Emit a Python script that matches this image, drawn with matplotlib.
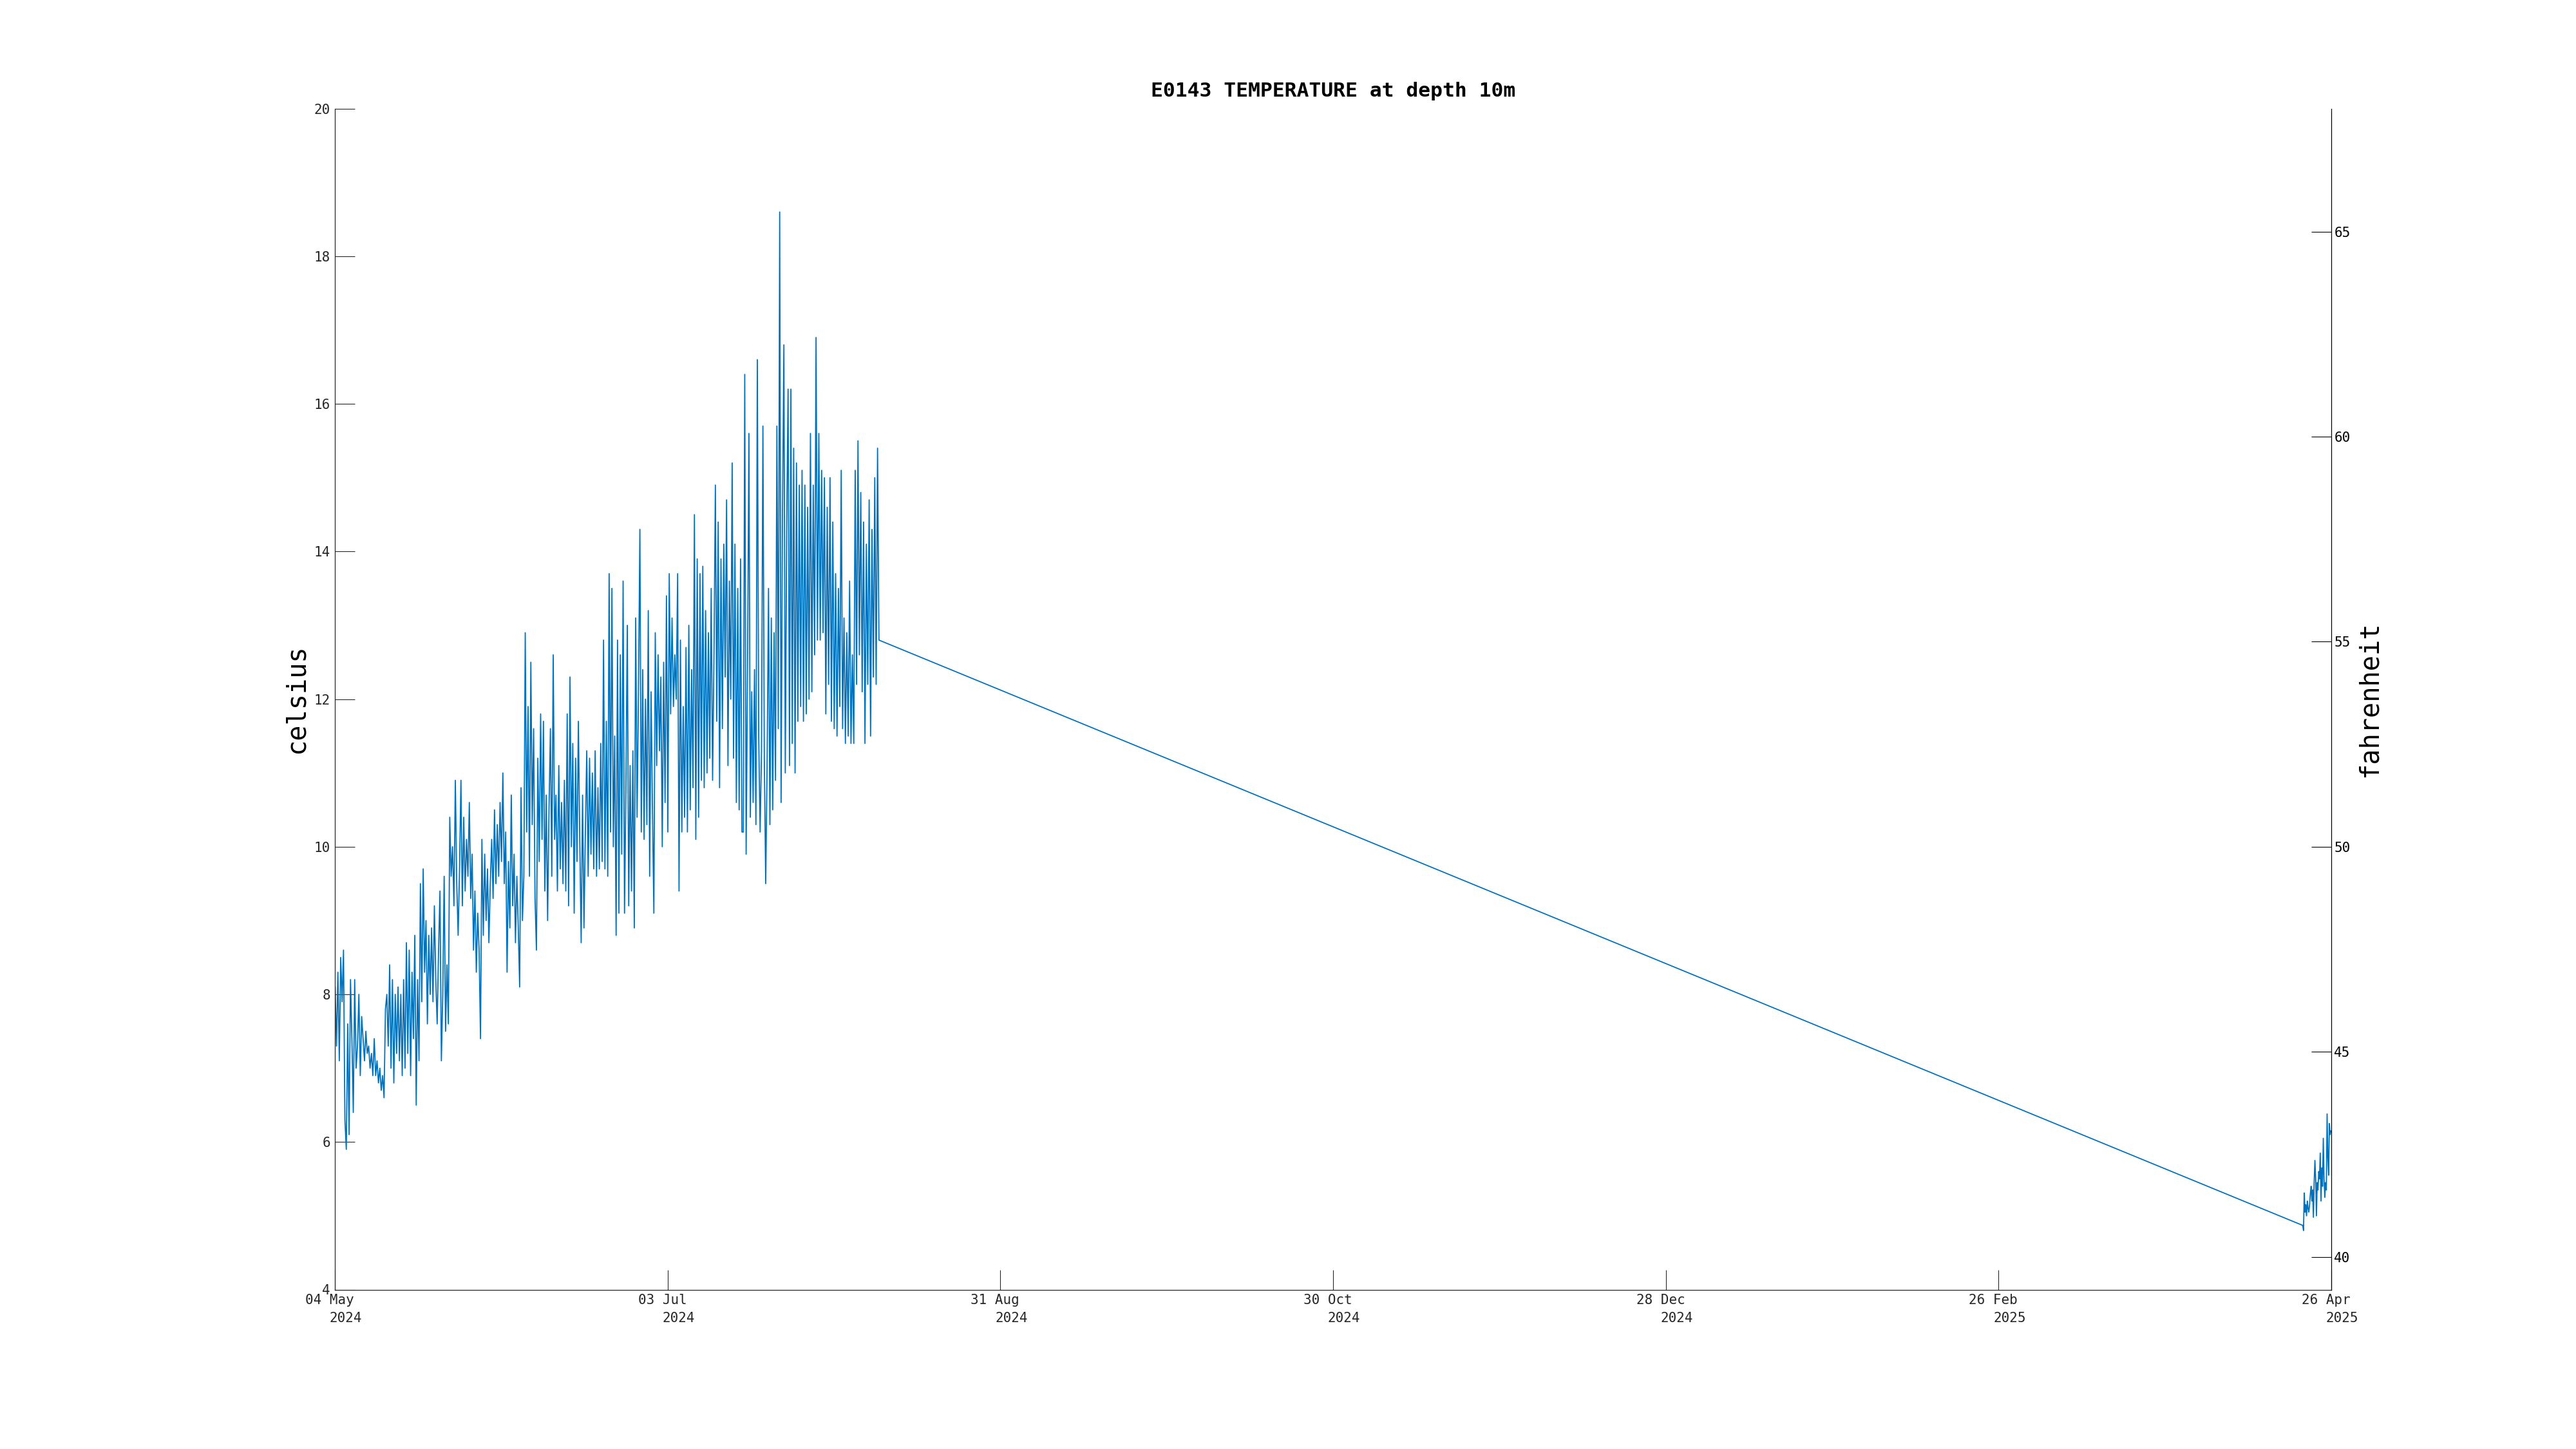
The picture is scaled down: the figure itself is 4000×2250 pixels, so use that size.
import numpy as np
import pandas as pd
import matplotlib
matplotlib.use('Agg')
import matplotlib.pyplot as plt
import matplotlib.dates as mdates

plt.rcParams['font.family'] = ['DejaVu Sans Mono']

title = "E0143 TEMPERATURE at depth 10m"
t_start = pd.Timestamp('2024-05-04 00:00')
t_end = pd.Timestamp('2025-04-26 00:00')
tick_day = ['04 May', '03 Jul', '31 Aug', '30 Oct', '28 Dec', '26 Feb', '26 Apr']
tick_year = ['2024', '2024', '2024', '2024', '2024', '2025', '2025']
c_ticks = [4, 6, 8, 10, 12, 14, 16, 18, 20]
f_ticks = [40, 45, 50, 55, 60, 65]

# summer record, one reading every 6 hours from 04 May 2024 01:00
summer_temp = [
    8.1, 7.3, 8.3, 7.1,  8.5, 7.9, 8.6, 6.3,  5.9, 7.6, 6.1, 8.2,  7.4, 6.4, 8.2, 7.0,
    7.3, 8.0, 6.9, 7.7,  7.4, 7.1, 7.5, 7.2,  7.3, 7.0, 7.2, 6.9,  7.4, 6.9, 7.1, 6.8,
    7.0, 6.7, 6.9, 6.6,  7.8, 8.0, 7.3, 8.4,  7.0, 8.2, 6.8, 8.0,  7.2, 8.1, 7.1, 8.0,
    6.9, 8.2, 7.0, 8.7,  7.2, 8.6, 6.9, 8.3,  7.4, 8.8, 6.5, 8.2,  7.1, 9.5, 7.9, 9.7,
    8.3, 9.0, 7.6, 8.8,  8.0, 8.9, 7.9, 9.2,  8.2, 7.6, 8.6, 9.4,  7.1, 8.0, 9.6, 7.5,
    8.4, 7.6, 10.4, 9.6, 10.0, 9.2, 10.9, 9.5, 8.8, 9.7, 10.9, 9.2, 10.4, 9.4, 10.1, 9.6,
    10.6, 9.3, 9.9, 8.6, 9.4, 8.3, 9.1, 8.6,  7.4, 10.1, 8.8, 9.9, 9.0, 9.7, 8.7, 9.5,
    10.1, 9.3, 10.5, 9.5, 10.3, 9.6, 10.6, 9.8, 11.0, 9.5, 10.2, 8.3, 9.8, 8.9, 10.7, 9.2,
    9.9, 8.7, 9.6, 8.9,  8.1, 10.8, 9.0, 9.6, 12.9, 10.2, 11.9, 9.6, 12.5, 10.3, 11.6, 9.3,
    8.6, 11.2, 9.8, 11.8, 10.1, 11.7, 9.4, 10.7, 9.0, 10.5, 11.6, 9.6, 12.6, 10.1, 10.7, 9.4,
    11.1, 9.7, 10.6, 9.5, 10.9, 9.4, 11.8, 9.2, 12.3, 10.0, 11.4, 9.1, 11.2, 9.8, 11.7, 10.1,
    8.7, 10.7, 8.9, 10.2, 11.3, 9.6, 11.2, 9.9, 11.0, 9.7, 11.3, 9.6, 10.8, 9.7, 11.4, 9.8,
    12.8, 9.7, 11.7, 9.6, 13.7, 10.2, 13.5, 10.0, 11.5, 8.8, 12.8, 9.1, 12.6, 9.9, 13.6, 9.1,
    10.8, 13.0, 9.2, 11.1, 9.4, 11.3, 8.9, 13.1, 10.4, 12.1, 14.3, 10.2, 12.4, 10.1, 12.0, 10.3,
    13.2, 9.6, 12.1, 10.5, 9.1, 12.9, 11.1, 12.6, 11.3, 12.3, 10.0, 12.5, 10.6, 13.4, 10.2, 13.7,
    11.8, 13.1, 11.9, 12.6, 12.0, 13.7, 9.4, 12.8, 10.2, 11.9, 10.4, 12.7, 10.2, 13.0, 10.5, 12.4,
    10.8, 14.5, 10.1, 13.9, 10.4, 13.7, 10.9, 13.8, 10.8, 13.2, 11.0, 12.9, 11.2, 13.5, 10.9, 12.6,
    14.9, 11.7, 14.4, 10.8, 13.9, 11.6, 14.1, 12.3, 14.7, 11.1, 13.6, 12.0, 15.2, 11.2, 14.1, 10.6,
    13.5, 10.5, 13.9, 10.2, 10.2, 16.4, 9.9, 12.4, 15.6, 10.4, 12.1, 10.6, 12.4, 10.3, 16.6, 11.5,
    10.2, 11.3, 15.7, 11.2, 9.5, 11.1, 13.5, 10.3, 13.1, 10.5, 12.9, 10.9, 15.7, 11.6, 18.6, 10.6,
    14.5, 16.8, 11.0, 14.3, 16.2, 11.1, 16.2, 11.4, 15.4, 11.0, 15.2, 11.7, 14.9, 11.9, 15.1, 11.7,
    14.9, 11.8, 14.6, 12.0, 15.6, 12.1, 14.9, 12.6, 16.9, 12.8, 15.6, 12.8, 15.1, 12.9, 15.0, 11.8,
    14.6, 12.2, 15.0, 11.7, 14.4, 11.6, 13.7, 11.5, 13.5, 11.9, 15.1, 11.6, 13.1, 11.4, 12.9, 11.5,
    13.6, 11.4, 12.6, 11.4, 15.1, 12.2, 15.5, 12.6, 14.8, 12.1, 14.4, 11.4, 14.1, 12.2, 14.7, 11.5,
    14.3, 12.3, 15.0, 12.2, 15.4, 12.8,
]

# spring record, readings ~3.3 h apart from 20 Apr 2025 21:30
spring_temp = [
    4.87, 4.80, 5.31, 5.05, 5.15, 5.00, 5.20, 5.10, 5.05, 5.15, 5.30, 5.40, 5.20,
    5.35, 4.98, 5.45, 5.75, 5.50, 5.00, 5.45, 5.35, 5.60, 5.50, 5.85, 5.20, 5.65,
    5.40, 6.05, 5.50, 5.25, 5.45, 5.35, 6.38, 5.80, 5.55, 6.25, 6.10, 6.15,
]

summer_time = pd.date_range('2024-05-04 01:00', periods=len(summer_temp), freq='6h')
spring_time = pd.date_range('2025-04-20 21:30', periods=len(spring_temp), freq='196min')
times = mdates.date2num(list(summer_time) + list(spring_time))
temps = np.array(summer_temp + spring_temp)

gray = '#262626'
fig = plt.figure(figsize=(40, 22.5), dpi=100)
ax = fig.add_axes([0.13, 0.11, 0.775, 0.815])
ax.plot(times, temps, color='#0072BD', lw=1.3)

ax.set_xlim(mdates.date2num(t_start), mdates.date2num(t_end))
ax.set_ylim(4, 20)
ax.set_yticks(c_ticks)

tick_pos = mdates.date2num(pd.date_range(t_start, t_end, periods=len(tick_day)))
ax.set_xticks(tick_pos)
ax.tick_params(axis='x', direction='in', length=22.3, width=0.8, color=gray,
               labelbottom=False)
ax.tick_params(axis='y', direction='in', length=22.3, width=0.8, color=gray,
               labelcolor=gray, labelsize=15, pad=5)
for t, d, yr in zip(tick_pos, tick_day, tick_year):
    ax.annotate(d, xy=(t, 0), xycoords=('data', 'axes fraction'), xytext=(-5.8, -12.2),
                textcoords='offset points', ha='center', va='center', fontsize=15, color=gray)
    ax.annotate(yr, xy=(t, 0), xycoords=('data', 'axes fraction'), xytext=(12.2, -31.7),
                textcoords='offset points', ha='center', va='center', fontsize=15, color=gray)

for s in ['top', 'right']:
    ax.spines[s].set_visible(False)
for s in ['left', 'bottom']:
    ax.spines[s].set_color(gray)
    ax.spines[s].set_linewidth(0.9)

ax.set_ylabel('celsius', fontsize=29, color='black')
ax.yaxis.label.set_va('center')
ax.yaxis.set_label_coords(-0.0193, 0.5)

ax2 = ax.twinx()
ax2.set_ylim(4 * 9 / 5 + 32, 20 * 9 / 5 + 32)
ax2.set_yticks(f_ticks)
ax2.tick_params(axis='y', direction='in', length=22.3, width=0.8, colors='black',
                labelsize=15, pad=3)
for s in ['top', 'left', 'bottom']:
    ax2.spines[s].set_visible(False)
ax2.spines['right'].set_color('black')
ax2.spines['right'].set_linewidth(0.9)
ax2.set_ylabel('fahrenheit', fontsize=29, color='black')
ax2.yaxis.label.set_va('center')
ax2.yaxis.set_label_coords(1.0193, 0.5)

ax.text(0.5, 1.0147, title, transform=ax.transAxes, ha='center', va='center',
        fontsize=22.6, fontweight='bold')

fig.savefig('out.png', dpi=100, facecolor='white')
